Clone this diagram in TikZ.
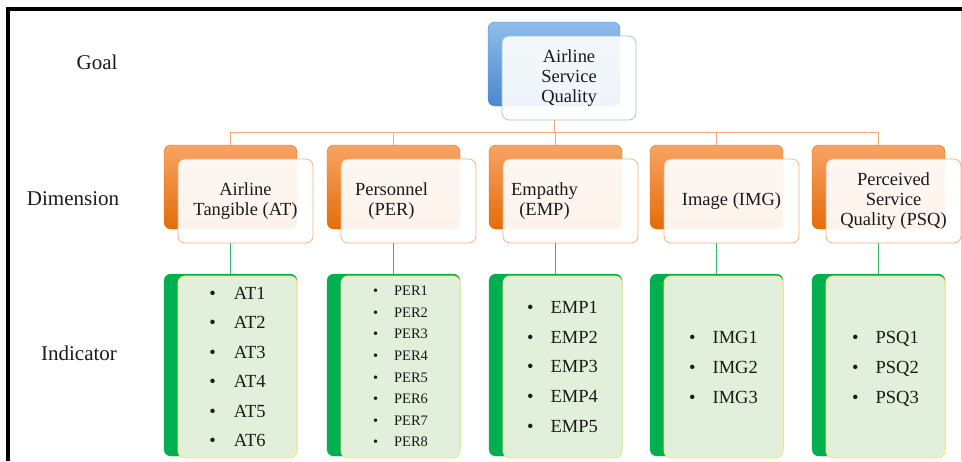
\documentclass[tikz,border=0pt]{standalone}
\usepackage{fontspec}
\setmainfont{Liberation Serif}[Ligatures=TeX]
\definecolor{txt}{HTML}{1A1A1A}
\definecolor{bluetop}{HTML}{8FBDE9}
\definecolor{bluebot}{HTML}{4A88D0}
\definecolor{bluebrd}{HTML}{9DC3E6}
\definecolor{orgtop}{HTML}{F8A463}
\definecolor{orgbot}{HTML}{E46C0A}
\definecolor{orgbrd}{HTML}{F4B183}
\definecolor{orgline}{HTML}{F4A878}
\definecolor{grn}{HTML}{00B050}
\definecolor{grnfill}{HTML}{E2EFDA}
\definecolor{yel}{HTML}{FFDF70}
\definecolor{grnline}{HTML}{2DBA68}
\begin{document}
\begin{tikzpicture}[x=1pt,y=-1pt,
  box/.style={rounded corners=7pt, inner sep=0pt, outer sep=0pt},
  bback/.style={box, minimum width=132pt, minimum height=84pt, top color=bluetop, bottom color=bluebot, draw=bluebot},
  bfront/.style={box, minimum width=134pt, minimum height=84pt, draw=bluebrd, line width=0.8pt, fill=white, fill opacity=0.91, text opacity=1, align=center, text=txt, font=\fontsize{18.5}{20}\selectfont},
  oback/.style={box, minimum width=133pt, minimum height=84pt, top color=orgtop, bottom color=orgbot, draw=orgbot},
  ofront/.style={box, minimum width=135pt, minimum height=84pt, draw=orgbrd, line width=0.8pt, fill=white, fill opacity=0.92, text opacity=1, align=center, text=txt, font=\fontsize{18.5}{20}\selectfont},
  gback/.style={box, minimum width=133pt, minimum height=182pt, fill=grn, draw=grn},
  gfront/.style={box, minimum width=119pt, minimum height=182pt, fill=grnfill, draw=yel, line width=0.8pt, text=txt},
  oline/.style={draw=orgline, line width=1pt},
  gline/.style={draw=grnline, line width=1pt},
  lab/.style={font=\fontsize{21}{24}\selectfont, text=txt, inner sep=0pt}
]
\useasboundingbox (0,0) rectangle (962,461);
% frame
\draw[line width=3.5pt] (8,461) -- (8,9) -- (962,9);
\draw[black!18, line width=0.8pt] (961,11) -- (961,461);

% row labels
\node[lab] (lgoal) at (97,62) {Goal};
\node[lab] (ldim) at (73,199) {Dimension};
\node[lab] (lind) at (79,353) {Indicator};

% goal
\node[bback] (gb) at (554,64) {};
\node[bfront] (gf) at (569,78) {\raisebox{-2pt}{\begin{tabular}{@{}c@{}}Airline\\Service\\Quality\end{tabular}}};

% dimensions
\node[oback] (d1b) at (230.5,187) {};
\node[ofront] (d1f) at (245.5,201) {Airline\\Tangible (AT)};
\node[oback] (d2b) at (393.5,187) {};
\node[ofront] (d2f) at (408.5,201) {\begin{tabular}{@{}c@{}}Personnel\\(PER)\end{tabular}\hspace*{34pt}};
\node[oback] (d3b) at (555.5,187) {};
\node[ofront] (d3f) at (570.5,201) {\begin{tabular}{@{}c@{}}Empathy\\(EMP)\end{tabular}\hspace*{52pt}};
\node[oback] (d4b) at (716.5,187) {};
\node[ofront] (d4f) at (731.5,201) {Image (IMG)};
\node[oback] (d5b) at (878.5,187) {};
\node[ofront] (d5f) at (893.5,201) {Perceived\\Service\\Quality (PSQ)};

% indicators
\node[gback] (i1b) at (230.5,365) {};
\node[gfront, font=\fontsize{18.5}{29.5}\selectfont] (i1f) at (237.5,367)
  {\begin{tabular}{@{}l@{\hspace{18pt}}l@{}}\textbullet&AT1\\\textbullet&AT2\\\textbullet&AT3\\\textbullet&AT4\\\textbullet&AT5\\\textbullet&AT6\end{tabular}};
\node[gback] (i2b) at (393.5,365) {};
\node[gfront, font=\fontsize{14.5}{21.6}\selectfont] (i2f) at (400.5,367)
  {\begin{tabular}{@{}l@{\hspace{16pt}}l@{}}\textbullet&PER1\\\textbullet&PER2\\\textbullet&PER3\\\textbullet&PER4\\\textbullet&PER5\\\textbullet&PER6\\\textbullet&PER7\\\textbullet&PER8\end{tabular}};
\node[gback] (i3b) at (555.5,365) {};
\node[gfront, font=\fontsize{18.5}{29.8}\selectfont] (i3f) at (562.5,367)
  {\begin{tabular}{@{}l@{\hspace{17pt}}l@{}}\textbullet&EMP1\\\textbullet&EMP2\\\textbullet&EMP3\\\textbullet&EMP4\\\textbullet&EMP5\end{tabular}};
\node[gback] (i4b) at (716.5,365) {};
\node[gfront, font=\fontsize{18.5}{30}\selectfont] (i4f) at (723.5,367)
  {\begin{tabular}{@{}l@{\hspace{17pt}}l@{}}\textbullet&IMG1\\\textbullet&IMG2\\\textbullet&IMG3\end{tabular}};
\node[gback] (i5b) at (878.5,365) {};
\node[gfront, font=\fontsize{18.5}{30}\selectfont] (i5f) at (885.5,367)
  {\begin{tabular}{@{}l@{\hspace{17pt}}l@{}}\textbullet&PSQ1\\\textbullet&PSQ2\\\textbullet&PSQ3\end{tabular}};

% connectors goal -> dimensions
\foreach \i in {1,...,5}{
  \draw[oline] (gb |- gf.south) -- ++(0,12) -| (d\i b.north);
}
% connectors dimensions -> indicators
\foreach \i in {1,...,5}{
  \draw[gline] (d\i b |- d\i f.south) -- (i\i b.north);
}
\end{tikzpicture}
\end{document}
